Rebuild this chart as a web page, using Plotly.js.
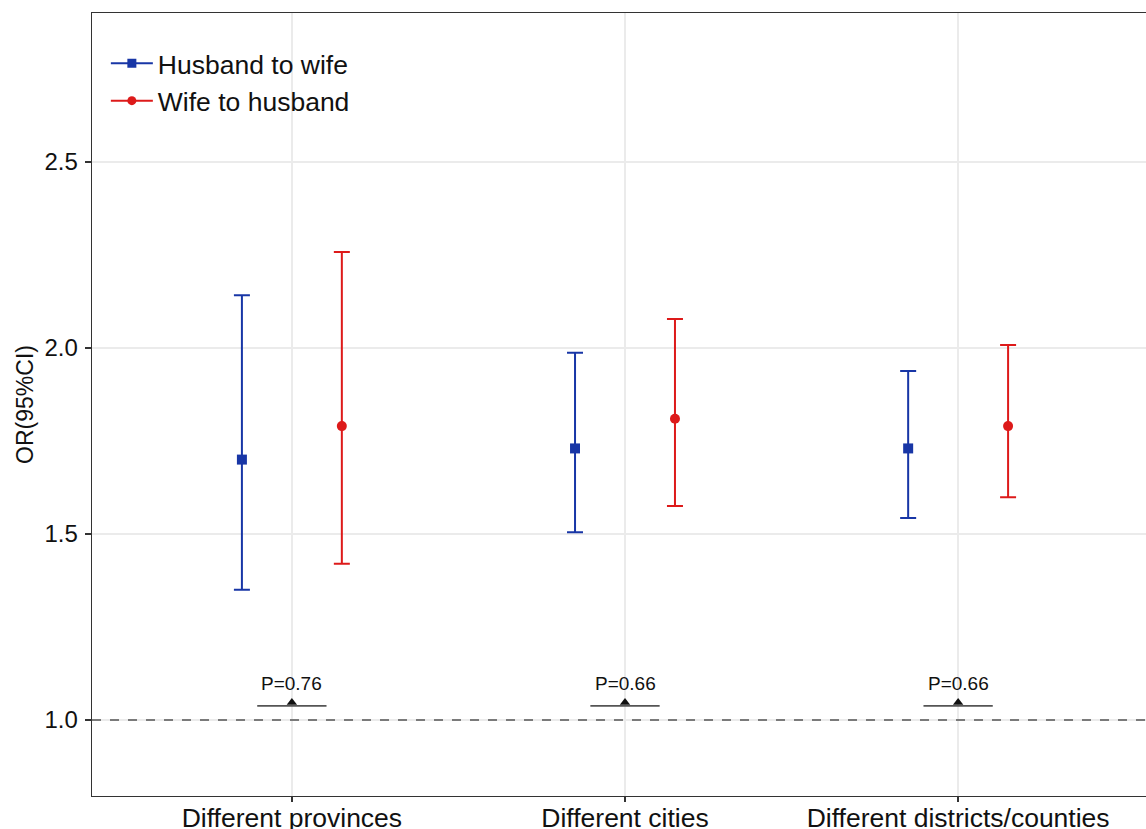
<!DOCTYPE html>
<html>
<head>
<meta charset="utf-8">
<script src="https://cdn.plot.ly/plotly-3.0.1.min.js"></script>
<style>
html,body{margin:0;padding:0;overflow:hidden;background:#fff;}
#chart{width:1160px;height:850px;}
</style>
</head>
<body>
<div id="chart"></div>
<script>
// ---- data ----
const categories = ["Different provinces", "Different cities", "Different districts/counties"];
const seriesNames = ["Husband to wife", "Wife to husband"];
const husbandOR = [1.70, 1.73, 1.73];
const husbandLower = [1.35, 1.505, 1.543];
const husbandUpper = [2.142, 1.987, 1.938];
const wifeOR = [1.79, 1.81, 1.79];
const wifeLower = [1.42, 1.575, 1.599];
const wifeUpper = [2.258, 2.078, 2.008];
const pLabels = ["P=0.76", "P=0.66", "P=0.66"];
const pY = [1.038, 1.038, 1.038];
const yTicks = [1.0, 1.5, 2.0, 2.5];
const yTickLabels = ["1.0", "1.5", "2.0", "2.5"];
const refValue = 1.0;

// ---- styling ----
const blue = "#1836a6";
const red = "#dd1a1a";
const dodge = 0.15;
const bracketHalf = 0.104;
const font = "Liberation Sans, Arial, sans-serif";

const idx = categories.map((c, i) => i);

function errTrace(name, offset, est, lo, hi, color, symbol, group) {
  return {
    type: "scatter", mode: "markers", name: name,
    legendgroup: group, showlegend: false,
    x: idx.map(i => i + offset), y: est,
    marker: {color: color, symbol: symbol, size: 10},
    error_y: {
      type: "data", symmetric: false,
      array: est.map((v, i) => hi[i] - v),
      arrayminus: est.map((v, i) => v - lo[i]),
      color: color, thickness: 2, width: 8
    },
    hoverinfo: "skip"
  };
}

const traces = [
  errTrace(seriesNames[0], -dodge, husbandOR, husbandLower, husbandUpper, blue, "square", "a"),
  errTrace(seriesNames[1], dodge, wifeOR, wifeLower, wifeUpper, red, "circle", "b")
];
// legend entries (line + marker look)
traces.push({type:"scatter", mode:"lines+markers", name: seriesNames[0], legendgroup:"a",
  x:[null], y:[null], marker:{color:blue, symbol:"square", size:9}, line:{color:blue, width:2}});
traces.push({type:"scatter", mode:"lines+markers", name: seriesNames[1], legendgroup:"b",
  x:[null], y:[null], marker:{color:red, symbol:"circle", size:9}, line:{color:red, width:2}});

// triangles at brackets
traces.push({
  type: "scatter", mode: "markers", showlegend: false, hoverinfo: "skip",
  x: idx, y: pY.map(v => v + 0.009),
  marker: {symbol: "triangle-up", size: 9, color: "#111"}
});

const shapes = [];
// white box behind legend (covers gridlines)
shapes.push({type: "rect", xref: "paper", yref: "paper",
  x0: 0.003, x1: 0.26, y0: 1 - (132 - 13) / 783, y1: 1 - (20 - 13) / 783,
  fillcolor: "#fff", line: {width: 0}, layer: "between"});
// reference dashed line
shapes.push({type: "line", xref: "paper", x0: 0, x1: 1, yref: "y", y0: refValue, y1: refValue,
  line: {color: "#555", width: 1.6, dash: "dash"}, layer: "above"});
// P brackets
idx.forEach(i => {
  shapes.push({type: "line", xref: "x", yref: "y", x0: i - bracketHalf, x1: i + bracketHalf,
    y0: pY[i], y1: pY[i], line: {color: "#555", width: 1.8}});
});

const annotations = idx.map(i => ({
  x: i, y: pY[i], xref: "x", yref: "y", text: pLabels[i], showarrow: false,
  yanchor: "bottom", yshift: 10, font: {family: font, size: 19, color: "#111"}
}));

const layout = {
  width: 1160, height: 850,
  margin: {l: 92, r: 2, t: 13, b: 54},
  paper_bgcolor: "#fff", plot_bgcolor: "#fff",
  font: {family: font, color: "#111"},
  showlegend: true,
  legend: {x: 0.013, y: 1 - (82 - 13) / 783, xanchor: "left", yanchor: "middle",
    bgcolor: "rgba(0,0,0,0)", font: {family: font, size: 26.5, color: "#111"},
    tracegroupgap: 0, itemwidth: 42},
  xaxis: {
    range: [-0.6, 2.6], tickmode: "array", tickvals: idx, ticktext: categories,
    showgrid: true, gridcolor: "#ebebeb", gridwidth: 2, zeroline: false,
    showline: true, linecolor: "#333", linewidth: 1.3, mirror: true,
    ticks: "outside", ticklen: 5, tickcolor: "#333", tickwidth: 1.3,
    ticklabelstandoff: -7,
    tickfont: {family: font, size: 26.5, color: "#111"}
  },
  yaxis: {
    range: [0.7957, 2.9005], tickmode: "array", tickvals: yTicks, ticktext: yTickLabels,
    showgrid: true, gridcolor: "#ebebeb", gridwidth: 2, zeroline: false,
    showline: true, linecolor: "#333", linewidth: 1.3, mirror: true,
    ticks: "outside", ticklen: 6, tickcolor: "#333", tickwidth: 1.3,
    ticklabelstandoff: 2,
    tickfont: {family: font, size: 24, color: "#111"},
    title: {text: "OR(95%CI)", font: {family: font, size: 23, color: "#111"}, standoff: 4}
  },
  shapes: shapes, annotations: annotations
};

Plotly.newPlot("chart", traces, layout, {displayModeBar: false, staticPlot: true});
</script>
</body>
</html>
